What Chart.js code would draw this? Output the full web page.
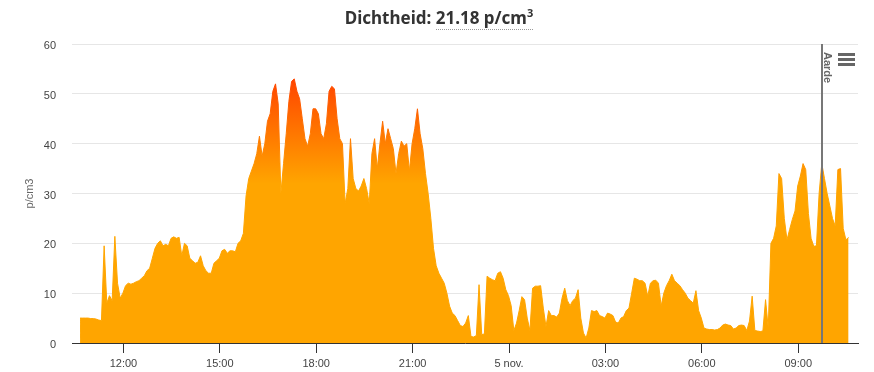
<!DOCTYPE html>
<html>
<head>
<meta charset="utf-8">
<script src="https://cdn.jsdelivr.net/npm/chart.js@4/dist/chart.umd.min.js"></script>
<style>
  body { margin: 0; background: #fff; }
  #wrap { position: relative; width: 874px; height: 372px; }
  #title { position: absolute; top: 6px; left: 2px; width: 874px; text-align: center;
           font: bold 17px "Noto Sans", sans-serif; color: #333; line-height: 24px; }
  #title span { border-bottom: 1px dotted #999; }
  #title sup { font-size: 11px; line-height: 0; }
</style>
</head>
<body>
<div id="wrap">
  <canvas id="myChart" width="874" height="372"></canvas>
  <div id="title">Dichtheid: <span>21.18 p/cm<sup>3</sup></span></div>
</div>
<script>
// meetreeks: start 4 nov 10:39, elke 5 minuten
const startHour = 10.65;
const stepMinutes = 5;
const dichtheid = [
  5.0, 5.0, 5.0, 5.0, 4.9, 4.9, 4.8, 4.6, 4.5, 19.5, 8, 9.5,
  8.5, 21.4, 12, 9, 10, 11.5, 12, 11.8, 12, 12.3, 12.5, 13,
  13.5, 14.5, 15, 17, 19, 20, 20.5, 19.5, 19.8, 19.5, 21, 21.3,
  21, 21.2, 17.5, 20, 19.5, 17, 16.5, 16, 16.2, 17.5, 15.5, 14.5,
  14, 14, 16, 16.5, 17, 18.5, 18.8, 18, 18.5, 18.5, 18.3, 20,
  20.5, 22, 29.5, 33, 34.5, 36, 38, 41.5, 37.5, 40, 44.5, 46,
  50.5, 52, 48, 30, 36, 42, 48.5, 52.5, 53, 50.5, 49, 45,
  41, 39.5, 42, 47, 47, 46, 42, 41, 44, 50.5, 51.5, 51,
  45, 41, 40, 28, 31, 41, 33, 31, 30.5, 31.5, 33, 31,
  28, 38, 41, 35, 40, 44.5, 40, 43, 41, 39, 34, 38,
  40.5, 39.5, 40, 34.5, 40, 43, 47, 42, 39, 34, 30, 25,
  19, 15.5, 14, 13, 12, 10, 7.4, 6, 5.5, 4.5, 3.5, 3.3,
  4, 5.5, 1.3, 1.2, 1.5, 11.7, 1.7, 1.8, 13.4, 13, 12.7, 12.5,
  14, 14.3, 13, 10.7, 9.5, 7.5, 2.5, 4, 6.5, 9.3, 8.7, 5,
  2.5, 11, 11.4, 11.4, 11.5, 7, 3.3, 6.5, 5.5, 5.5, 5.2, 6,
  9, 11, 8.5, 7.5, 8.5, 9, 10.7, 5, 2, 1, 3, 6.5,
  6.3, 6.5, 5.5, 5.3, 5, 6, 5.8, 5.5, 4.2, 4, 5, 5.3,
  6.5, 7, 10, 13, 12.8, 12.5, 12.5, 12, 9.4, 12, 12.5, 12.6,
  12, 7.4, 10, 11.5, 12.5, 13.8, 12.5, 12, 11.5, 10.7, 10, 9,
  8.5, 8, 10.5, 6.5, 5, 3, 2.8, 2.7, 2.7, 2.6, 2.7, 3,
  3.6, 3.8, 3.6, 3.5, 2.8, 3.0, 3.5, 3.6, 3.5, 2.5, 4.4, 9.4,
  2.5, 2.4, 2.3, 2.4, 8.7, 3, 20, 21, 23.5, 34, 33, 25,
  20.7, 22.8, 24.8, 26.5, 31.5, 33.5, 36, 34.8, 26, 21, 19.4, 19.5,
  30, 36, 33, 30, 27.5, 25, 23.5, 34.8, 35, 23, 20.7, 21.18
];
const tickHours = [12, 15, 18, 21, 24, 27, 30, 33];
const tickLabels = ["12:00", "15:00", "18:00", "21:00", "5 nov.", "03:00", "06:00", "09:00"];
const yTicks = [0, 10, 20, 30, 40, 50, 60];
const plotLineHour = 33.74;
const plotLineLabel = "Aarde";

const points = dichtheid.map((v, i) => ({ x: startHour + (i * stepMinutes) / 60, y: v }));

const labelFont = { family: "'Liberation Sans', Arial, sans-serif", size: 11 };

function gradient(context) {
  const chart = context.chart;
  if (!chart.chartArea) return "#FFA500";
  const y = chart.scales.y;
  const g = chart.ctx.createLinearGradient(0, y.getPixelForValue(53), 0, y.getPixelForValue(32));
  g.addColorStop(0, "#FF4500");
  g.addColorStop(1, "#FFA500");
  return g;
}

// plotlijn + menu-icoon
const extras = {
  id: "extras",
  afterDatasetsDraw(chart) {
    const { ctx, chartArea, scales } = chart;
    const x = Math.round(scales.x.getPixelForValue(plotLineHour));
    ctx.save();
    ctx.strokeStyle = "#777";
    ctx.lineWidth = 2;
    ctx.beginPath();
    ctx.moveTo(x, chartArea.top);
    ctx.lineTo(x, chartArea.bottom);
    ctx.stroke();

    ctx.translate(x + 2, chartArea.top + 8);
    ctx.rotate(Math.PI / 2);
    ctx.fillStyle = "#666";
    ctx.font = "bold 11px 'Liberation Sans', Arial, sans-serif";
    ctx.textBaseline = "alphabetic";
    ctx.textAlign = "left";
    ctx.fillText(plotLineLabel, 0, 0);
    ctx.restore();

    ctx.save();
    ctx.fillStyle = "#666";
    [53, 58, 63].forEach(function (yy) {
      ctx.fillRect(838, yy, 17, 3);
    });
    ctx.restore();
  },
};

const config = {
  type: "line",
  data: {
    datasets: [
      {
        label: "Dichtheid",
        data: points,
        fill: "origin",
        backgroundColor: gradient,
        borderColor: gradient,
        borderWidth: 1,
        pointRadius: 0,
        tension: 0,
      },
    ],
  },
  options: {
    responsive: false,
    animation: false,
    devicePixelRatio: 1,
    layout: { padding: { top: 44, right: 16, left: 0, bottom: 0 } },
    plugins: { legend: { display: false }, tooltip: { enabled: false }, title: { display: false } },
    scales: {
      x: {
        type: "linear",
        min: 10.4,
        max: 34.86,
        afterBuildTicks: (scale) => {
          scale.ticks = tickHours.map((v) => ({ value: v }));
        },
        afterFit: (scale) => {
          scale.height = 29;
        },
        grid: { drawOnChartArea: false, drawTicks: true, tickLength: 10, color: "#333", tickColor: "#333" },
        border: { color: "#333", width: 1 },
        ticks: {
          padding: 4,
          color: "#444",
          font: labelFont,
          maxRotation: 0,
          autoSkip: false,
          callback: (v) => tickLabels[tickHours.indexOf(v)],
        },
      },
      y: {
        min: 0,
        max: 60,
        afterBuildTicks: (scale) => {
          scale.ticks = yTicks.map((v) => ({ value: v }));
        },
        afterFit: (scale) => {
          scale.width = 72;
        },
        grid: { color: "#e6e6e6", drawTicks: false },
        border: { display: false },
        ticks: { padding: 16, color: "#444", font: labelFont, labelOffset: 2 },
        title: {
          display: true,
          text: "p/cm3",
          color: "#666",
          font: labelFont,
          padding: { top: 23, bottom: 0 },
        },
      },
    },
  },
  plugins: [extras],
};

const myChart = new Chart(document.getElementById("myChart"), config);
</script>
</body>
</html>
